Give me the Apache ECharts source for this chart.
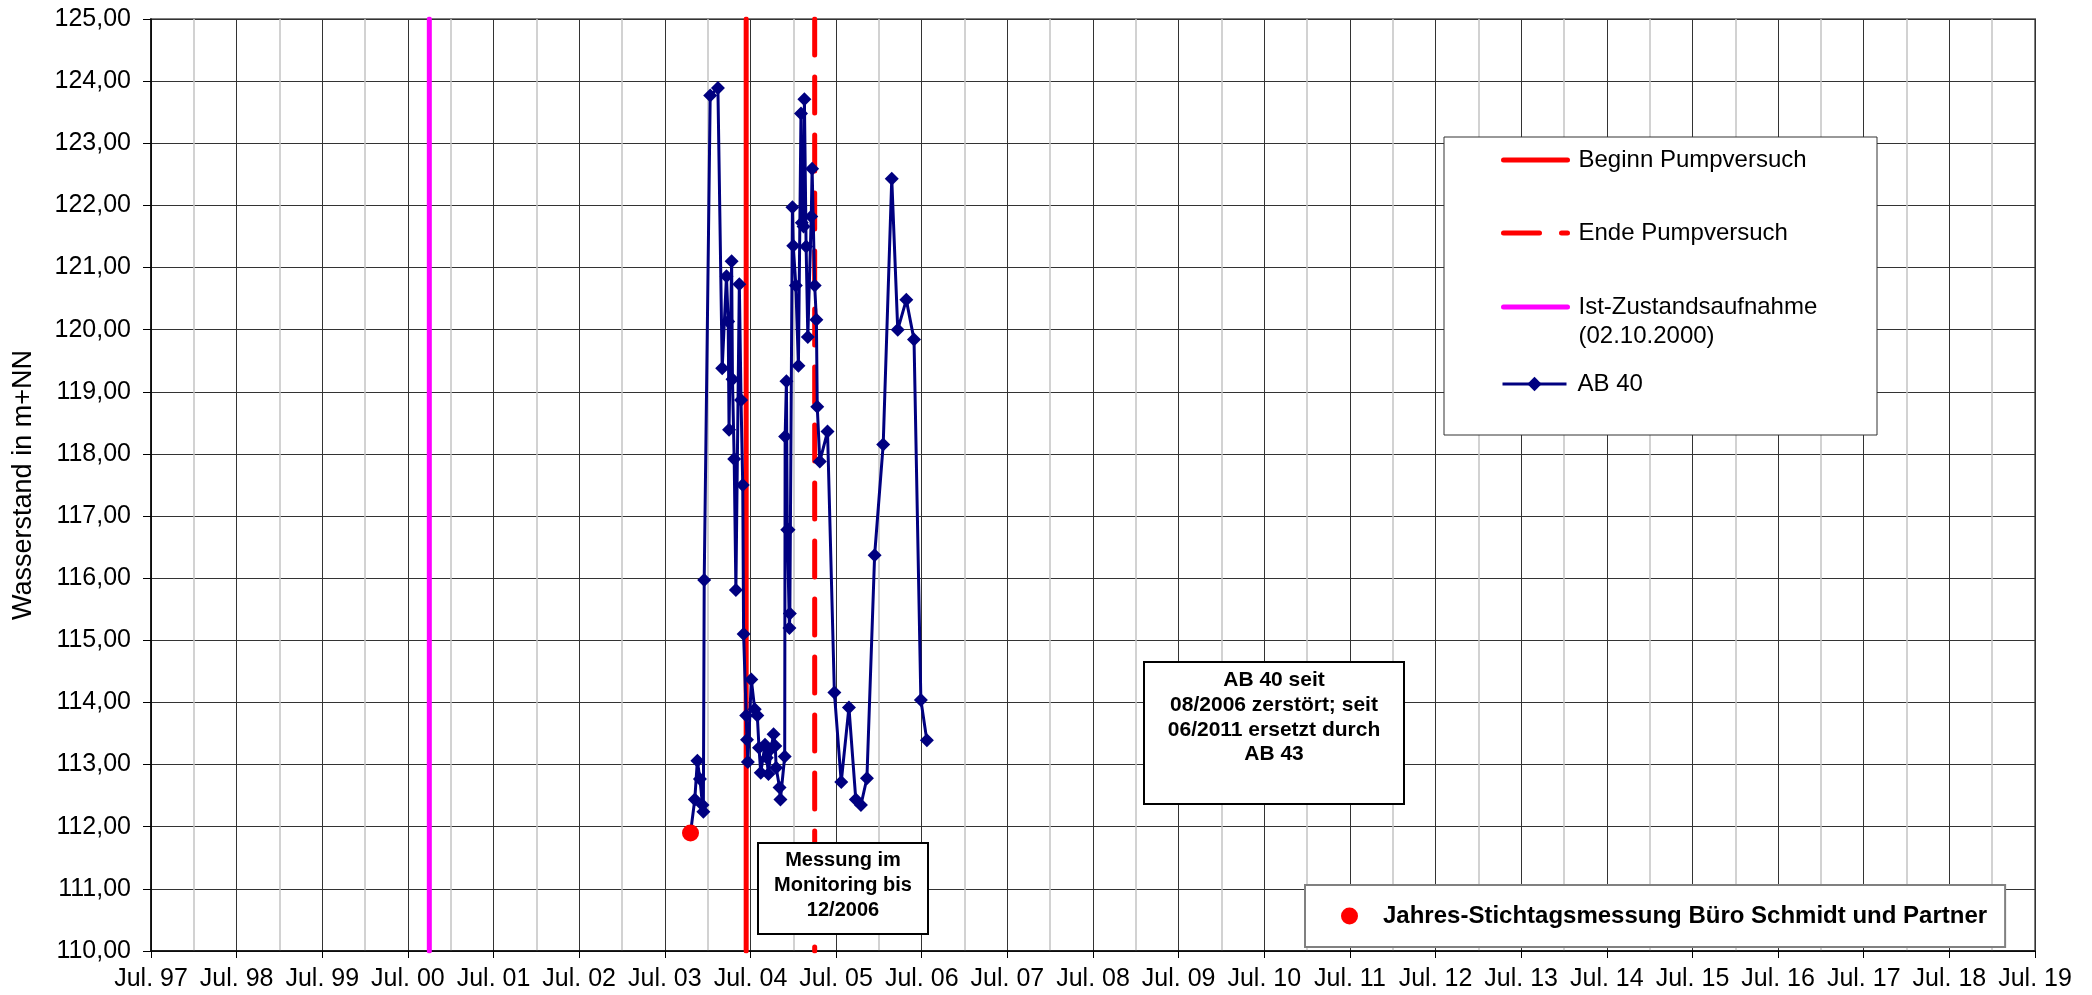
<!DOCTYPE html>
<html>
<head>
<meta charset="utf-8">
<title>AB 40 Wasserstand</title>
<script src="https://cdn.jsdelivr.net/npm/echarts@6/dist/echarts.min.js"></script>
<style>
    html, body { margin: 0; padding: 0; background: #fff; }
    #chart { width: 2092px; height: 995px; }
</style>
</head>
<body>
<div id="chart"></div>
<script>
// x-Achse: Beschriftung je Juli
const tickLabels = ['Jul. 97', 'Jul. 98', 'Jul. 99', 'Jul. 00', 'Jul. 01', 'Jul. 02', 'Jul. 03',
    'Jul. 04', 'Jul. 05', 'Jul. 06', 'Jul. 07', 'Jul. 08', 'Jul. 09', 'Jul. 10', 'Jul. 11',
    'Jul. 12', 'Jul. 13', 'Jul. 14', 'Jul. 15', 'Jul. 16', 'Jul. 17', 'Jul. 18', 'Jul. 19'];
const axisStart = 1997.5; // Jul. 97

// AB 40 (Datum als Dezimaljahr, Wasserstand in m+NN)
const ab40Dates = [
    2003.80, 2003.85, 2003.88, 2003.91, 2003.94, 2003.95, 2003.96, 2004.03, 2004.12, 2004.17,
    2004.22, 2004.24, 2004.25, 2004.28, 2004.29, 2004.31, 2004.33, 2004.37, 2004.39, 2004.41,
    2004.42, 2004.45, 2004.46, 2004.47, 2004.51, 2004.55, 2004.58, 2004.60, 2004.62, 2004.67,
    2004.69, 2004.71, 2004.74, 2004.77, 2004.79, 2004.80, 2004.84, 2004.85, 2004.90, 2004.905,
    2004.92, 2004.93, 2004.945, 2004.955, 2004.96, 2004.99, 2005.00, 2005.03, 2005.06, 2005.09,
    2005.10, 2005.12, 2005.13, 2005.15, 2005.17, 2005.21, 2005.22, 2005.25, 2005.27, 2005.28,
    2005.31, 2005.40, 2005.48, 2005.56, 2005.65, 2005.73, 2005.79, 2005.86, 2005.95, 2006.05,
    2006.15, 2006.22, 2006.32, 2006.41, 2006.49, 2006.56
];
const ab40Levels = [
    111.90, 112.44, 113.06, 112.77, 112.35, 112.24, 115.97, 123.77, 123.89, 119.38,
    120.86, 120.13, 118.39, 121.10, 119.20, 117.92, 115.81, 120.73, 118.87, 117.50,
    115.10, 113.79, 113.40, 113.04, 114.37, 113.89, 113.79, 113.27, 112.87, 113.32,
    113.11, 112.85, 113.25, 113.49, 113.30, 112.95, 112.63, 112.44, 113.13, 118.28,
    119.17, 116.78, 116.78, 115.20, 115.43, 121.97, 121.35, 120.71, 119.42, 123.48,
    121.72, 121.66, 123.71, 121.34, 119.88, 121.82, 122.59, 120.71, 120.16, 118.76,
    117.88, 118.36, 114.16, 112.72, 113.92, 112.44, 112.35, 112.78, 116.37, 118.15,
    122.43, 120.00, 120.48, 119.84, 114.04, 113.39
];

// Jahres-Stichtagsmessung
const stichtagDates = [2003.80];
const stichtagLevels = [111.90];

// senkrechte Markierungen
const eventNames = ['Beginn Pumpversuch', 'Ende Pumpversuch', 'Ist-Zustandsaufnahme (02.10.2000)'];
const eventDates = [2004.45, 2005.25, 2000.75];

const FONT = "'Liberation Sans', Arial, Helvetica, sans-serif";
const eventStyles = {
    'Beginn Pumpversuch': { color: '#ff0000', type: 'solid' },
    'Ende Pumpversuch': { color: '#ff0000', type: [36, 22] },
    'Ist-Zustandsaufnahme (02.10.2000)': { color: '#ff00ff', type: 'solid' }
};

function toAxis(d) {
    return +((d - axisStart) * 12).toFixed(3);
}

let myChart
function draw(){
    const ab40 = ab40Dates.map((d, i) => [toAxis(d), ab40Levels[i]]);
    const stichtag = stichtagDates.map((d, i) => [toAxis(d), stichtagLevels[i]]);

    const eventSeries = eventNames.map((name, i) => ({
        name: name,
        type: 'line',
        symbol: 'none',
        silent: true,
        z: 3,
        data: [[toAxis(eventDates[i]), 125], [toAxis(eventDates[i]), 110]],
        itemStyle: { color: eventStyles[name].color },
        lineStyle: { color: eventStyles[name].color, width: 5, type: eventStyles[name].type, cap: 'round' }
    }));

    // Legende oben rechts: ein Eintrag je Komponente
    const legendBase = {
        orient: 'vertical',
        left: 1501,
        itemWidth: 64,
        itemHeight: 14,
        padding: 0,
        selectedMode: false,
        z: 6,
        itemStyle: { opacity: 0 },   // kein Punkt im Linien-Symbol
        textStyle: { fontFamily: FONT, fontSize: 24, lineHeight: 29, color: '#000', padding: [0, 0, 0, 6] }
    };

    let option = {
        animation: false,
        backgroundColor: '#fff',
        grid: {
            left: 151, right: 57, top: 19, bottom: 44,
            show: true, borderColor: '#808080', borderWidth: 2,
            outerBoundsMode: 'none'
        },
        xAxis: {
            type: 'value',
            min: 0,
            max: 264,
            interval: 12,
            axisLine: { lineStyle: { color: '#000', width: 1.5 } },
            axisTick: { show: true, length: 7, lineStyle: { color: '#000' } },
            axisLabel: {
                margin: 16, fontSize: 25, fontFamily: FONT, color: '#000',
                formatter: v => tickLabels[Math.round(v / 12)] || ''
            },
            splitLine: { show: true, lineStyle: { color: '#333', width: 1 } },
            minorTick: { show: false, splitNumber: 2 },
            minorSplitLine: { show: true, lineStyle: { color: '#c4c4c4', width: 1.5 } }
        },
        yAxis: {
            type: 'value',
            min: 110,
            max: 125,
            interval: 1,
            name: 'Wasserstand in m+NN',
            nameLocation: 'middle',
            nameGap: 114,
            nameTextStyle: { fontSize: 27, fontFamily: FONT, color: '#000' },
            axisLine: { show: true, lineStyle: { color: '#000', width: 1.5 } },
            axisTick: { show: true, length: 8, lineStyle: { color: '#000' } },
            axisLabel: {
                margin: 20, fontSize: 25, fontFamily: FONT, color: '#000',
                formatter: v => v.toFixed(2).replace('.', ',')
            },
            splitLine: { show: true, lineStyle: { color: '#333', width: 1 } }
        },
        legend: [
            Object.assign({}, legendBase, { data: ['Beginn Pumpversuch'], top: 145.5, lineStyle: { width: 5 } }),
            Object.assign({}, legendBase, { data: ['Ende Pumpversuch'], top: 218.5, lineStyle: { width: 5 } }),
            Object.assign({}, legendBase, {
                data: ['Ist-Zustandsaufnahme (02.10.2000)'], top: 263.5, lineStyle: { width: 5 },
                formatter: () => '\nIst-Zustandsaufnahme\n(02.10.2000)'
            }),
            Object.assign({}, legendBase, {
                data: ['AB 40'], top: 369.5, itemHeight: 18,
                itemStyle: { opacity: 1 }, lineStyle: { width: 3 }
            }),
            {
                data: ['Jahres-Stichtagsmessung Büro Schmidt und Partner'],
                left: 1305,
                top: 885,
                itemWidth: 17,
                itemHeight: 17,
                selectedMode: false,
                z: 6,
                backgroundColor: '#fff',
                borderColor: '#808080',
                borderWidth: 2,
                padding: [18, 18, 18, 36],
                textStyle: {
                    fontFamily: FONT, fontSize: 24, fontWeight: 'bold', lineHeight: 26,
                    color: '#000', padding: [0, 0, 0, 20]
                }
            }
        ],
        graphic: [
            // Rahmen der Legende oben rechts
            {
                type: 'rect', z: 5,
                shape: { x: 1444, y: 137, width: 433, height: 298 },
                style: { fill: '#fff', stroke: '#333', lineWidth: 1 }
            },
            {
                type: 'rect', z: 5,
                shape: { x: 758, y: 843, width: 170, height: 91 },
                style: { fill: '#fff', stroke: '#000', lineWidth: 2 }
            },
            {
                type: 'text', z: 6,
                style: {
                    x: 843, y: 848, text: 'Messung im\nMonitoring bis\n12/2006',
                    textAlign: 'center', textVerticalAlign: 'top',
                    font: 'bold 20px ' + FONT, lineHeight: 25, fill: '#000'
                }
            },
            {
                type: 'rect', z: 5,
                shape: { x: 1144, y: 662, width: 260, height: 142 },
                style: { fill: '#fff', stroke: '#000', lineWidth: 2 }
            },
            {
                type: 'text', z: 6,
                style: {
                    x: 1274, y: 668, text: 'AB 40 seit\n08/2006 zerstört; seit\n06/2011 ersetzt durch\nAB 43',
                    textAlign: 'center', textVerticalAlign: 'top',
                    font: 'bold 21px ' + FONT, lineHeight: 24.7, fill: '#000'
                }
            }
        ],
        series: eventSeries.concat([
            {
                name: 'AB 40',
                type: 'line',
                z: 4,
                data: ab40,
                symbol: 'diamond',
                symbolSize: 14,
                showAllSymbol: true,
                itemStyle: { color: '#000080' },
                lineStyle: { color: '#000080', width: 3 }
            },
            {
                name: 'Jahres-Stichtagsmessung Büro Schmidt und Partner',
                type: 'scatter',
                z: 5,
                data: stichtag,
                symbol: 'circle',
                symbolSize: 17,
                itemStyle: { color: '#ff0000', opacity: 1 }
            }
        ])
    };

    myChart = echarts.init(document.getElementById("chart"));
    myChart.setOption(option);

    // Fenstergröße geändert -> neu zeichnen
    window.addEventListener('resize', function(){
        myChart.resize();
    }, false)
}

draw();
</script>
</body>
</html>
